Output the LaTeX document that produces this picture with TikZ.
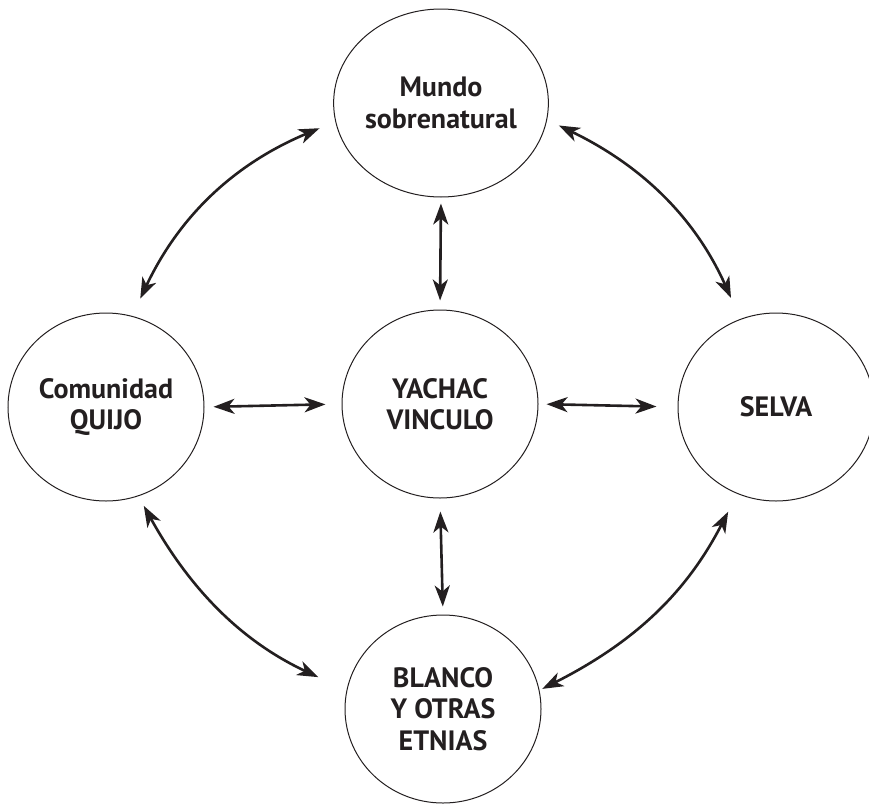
\documentclass[tikz,border=0pt]{standalone}
\usepackage{fontspec}
\setmainfont{PT Sans}
\usetikzlibrary{arrows.meta,shapes.geometric}
\definecolor{ink}{HTML}{231F20}
\tikzset{
  circ/.style={ellipse,draw=ink,line width=1pt,minimum width=196pt,minimum height=188pt,inner sep=0pt,align=center,
    font=\bfseries\fontsize{28}{31.5}\selectfont,text=ink},
  link/.style={line width=2.6pt,draw=ink,{Stealth[length=21pt,width=15pt,inset=6pt]}-{Stealth[length=21pt,width=15pt,inset=6pt]}},
}
\begin{document}
\begin{tikzpicture}[x=1pt,y=1pt]
\useasboundingbox (0,0) rectangle (869,-803);
\node[circ] (top) at (441,-103) {Mundo\\sobrenatural};
\node[circ] (cen) at (440,-404) {YACHAC\\VINCULO};
\node[circ] (lft) at (106,-407) {Comunidad\\QUIJO};
\node[circ] (rgt) at (776,-407) {SELVA};
\node[circ] (bot) at (443,-709) {BLANCO\\Y OTRAS\\ETNIAS};
\draw[link,shorten <=6pt,shorten >=9pt] (top.south) -- (cen.north);
\draw[link,shorten <=13pt,shorten >=8pt] (cen.south) -- (bot.north);
\draw[link,shorten <=9pt,shorten >=16pt] (lft.east) -- (cen.west);
\draw[link,shorten <=8pt,shorten >=21pt] (cen.east) -- (rgt.west);
\draw[link,shorten <=17pt,shorten >=19pt] (top.190) to[bend right=21] (lft.74);
\draw[link,shorten <=13pt,shorten >=23pt] (top.351) to[bend left=20] (rgt.112);
\draw[link,shorten <=11pt,shorten >=31pt] (lft.290) to[bend right=18] (bot.169);
\draw[link,shorten <=20pt,shorten >=3pt] (rgt.246) to[bend left=18] (bot.11);
\end{tikzpicture}
\end{document}
